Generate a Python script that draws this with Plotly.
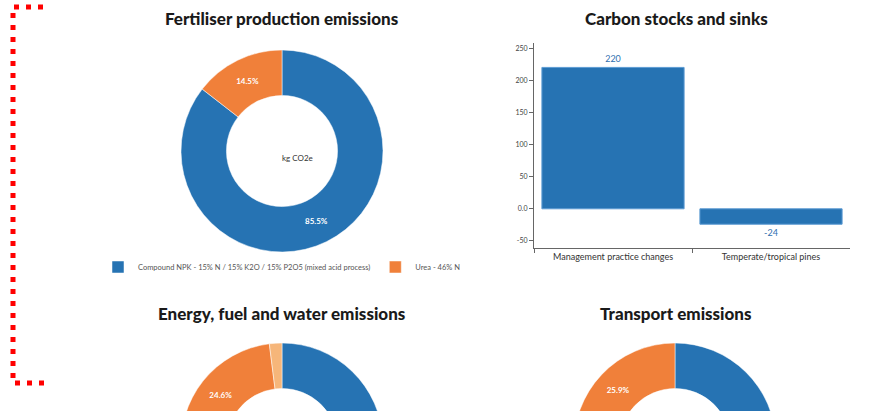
import plotly.graph_objects as go

# ---------------- data ----------------
fert_labels = ["Compound NPK - 15% N / 15% K2O / 15% P2O5 (mixed acid process)", "Urea - 46% N"]
fert_values = [85.5, 14.5]

carbon_categories = ["Management practice changes", "Temperate/tropical pines"]
carbon_values = [220, -24]
carbon_tickvals = [250, 200, 150, 100, 50, 0, -50]
carbon_ticktext = ["250", "200", "150", "100", "50", "0.0", "-50"]

energy_labels = ["Electricity", "Diesel", "Water"]
energy_values = [73.4, 24.6, 2.0]

transport_labels = ["Road transport", "Sea freight"]
transport_values = [74.1, 25.9]

# ---------------- styling ----------------
W, H = 874, 620
BLUE = "#2673b3"
ORANGE = "#f0803a"
PEACH = "#f6b67a"
TITLE_FONT = dict(family="Lato", size=17, color="#1a1a1a", weight=900)


def px_x(p):
    return p / W


def px_y(p):
    return 1 - p / H


def pie_domain(cx, cy, r):
    return dict(x=[px_x(cx - r), px_x(cx + r)], y=[px_y(cy + r), px_y(cy - r)])


fig = go.Figure()

pie_common = dict(
    hole=0.55,
    sort=False,
    direction="clockwise",
    rotation=0,
    textinfo="percent",
    texttemplate="%{percent:.1%}",
    insidetextorientation="horizontal",
    textfont=dict(family="Lato", size=8, color="white", weight=700),
    marker_line=dict(color="white", width=0.5),
)

fig.add_trace(go.Pie(
    labels=fert_labels, values=fert_values,
    marker_colors=[BLUE, ORANGE],
    domain=pie_domain(282, 151, 101),
    legend="legend", textposition="inside",
    **pie_common,
))

fig.add_trace(go.Pie(
    labels=energy_labels, values=energy_values,
    marker_colors=[BLUE, ORANGE, PEACH],
    domain=pie_domain(282, 444, 101),
    legend="legend2", textposition=["inside", "inside", "none"],
    **pie_common,
))

fig.add_trace(go.Pie(
    labels=transport_labels, values=transport_values,
    marker_colors=[BLUE, ORANGE],
    domain=pie_domain(675, 444, 101),
    legend="legend3", textposition="inside",
    **pie_common,
))

fig.add_trace(go.Bar(
    x=carbon_categories, y=carbon_values,
    marker=dict(color=BLUE, line=dict(color="#5d9bd3", width=1)),
    text=carbon_values, textposition="outside",
    textfont=dict(family="Lato", size=9, color="#2f6fb0"),
    cliponaxis=False, showlegend=False,
    xaxis="x", yaxis="y",
))

axis_font = dict(family="Lato", size=9, color="#333")
fig.update_layout(
    width=W, height=H,
    margin=dict(l=0, r=0, t=0, b=0),
    paper_bgcolor="white", plot_bgcolor="white",
    bargap=0.1,
    xaxis=dict(
        domain=[px_x(534), px_x(850)], anchor="y",
        range=[-0.5, 1.5],
        showline=True, linecolor="#666", linewidth=1,
        ticks="outside", ticklen=4, tickcolor="#666", tickson="boundaries",
        tickfont=axis_font, showgrid=False, zeroline=False,
    ),
    yaxis=dict(
        domain=[px_y(248), px_y(43)], anchor="x",
        range=[-61, 258],
        tickvals=carbon_tickvals, ticktext=carbon_ticktext,
        showline=True, linecolor="#666", linewidth=1,
        ticks="outside", ticklen=4, tickcolor="#666",
        tickfont=dict(family="Lato", size=7, color="#444"),
        showgrid=False, zeroline=False,
    ),
    legend=dict(
        orientation="h", x=px_x(282), xanchor="center", y=px_y(267), yanchor="middle",
        font=dict(family="Lato", size=7.5, color="#555"), itemwidth=30,
        bgcolor="rgba(0,0,0,0)",
    ),
    legend2=dict(
        orientation="h", x=px_x(282), xanchor="center", y=px_y(560), yanchor="middle",
        font=dict(family="Lato", size=7.5, color="#555"), itemwidth=30,
    ),
    legend3=dict(
        orientation="h", x=px_x(675), xanchor="center", y=px_y(560), yanchor="middle",
        font=dict(family="Lato", size=7.5, color="#555"), itemwidth=30,
    ),
    showlegend=True,
)

annotations = [
    dict(text="Fertiliser production emissions", x=px_x(282), y=px_y(18)),
    dict(text="Carbon stocks and sinks", x=px_x(676), y=px_y(18)),
    dict(text="Energy, fuel and water emissions", x=px_x(282), y=px_y(313)),
    dict(text="Transport emissions", x=px_x(676), y=px_y(313)),
]
for a in annotations:
    fig.add_annotation(xref="paper", yref="paper", xanchor="center", yanchor="middle",
                       showarrow=False, font=TITLE_FONT, **a)

fig.add_annotation(text="kg CO2e", x=px_x(280), y=px_y(151), xref="paper", yref="paper",
                   showarrow=False, font=dict(family="Lato", size=8, color="#333"))

# red dotted bracket on the left
red_line = dict(color="#ff0000", width=5, dash="5px,7px")
fig.add_shape(type="line", xref="paper", yref="paper",
              x0=px_x(13), x1=px_x(13), y0=px_y(13), y1=px_y(378), line=red_line)
fig.add_shape(type="line", xref="paper", yref="paper",
              x0=px_x(14), x1=px_x(46), y0=px_y(7), y1=px_y(7), line=red_line)
fig.add_shape(type="line", xref="paper", yref="paper",
              x0=px_x(15), x1=px_x(47), y0=px_y(383), y1=px_y(383), line=red_line)

fig.write_html("out.html", config={"displayModeBar": False},
               post_script="document.body.style.margin='0';")
